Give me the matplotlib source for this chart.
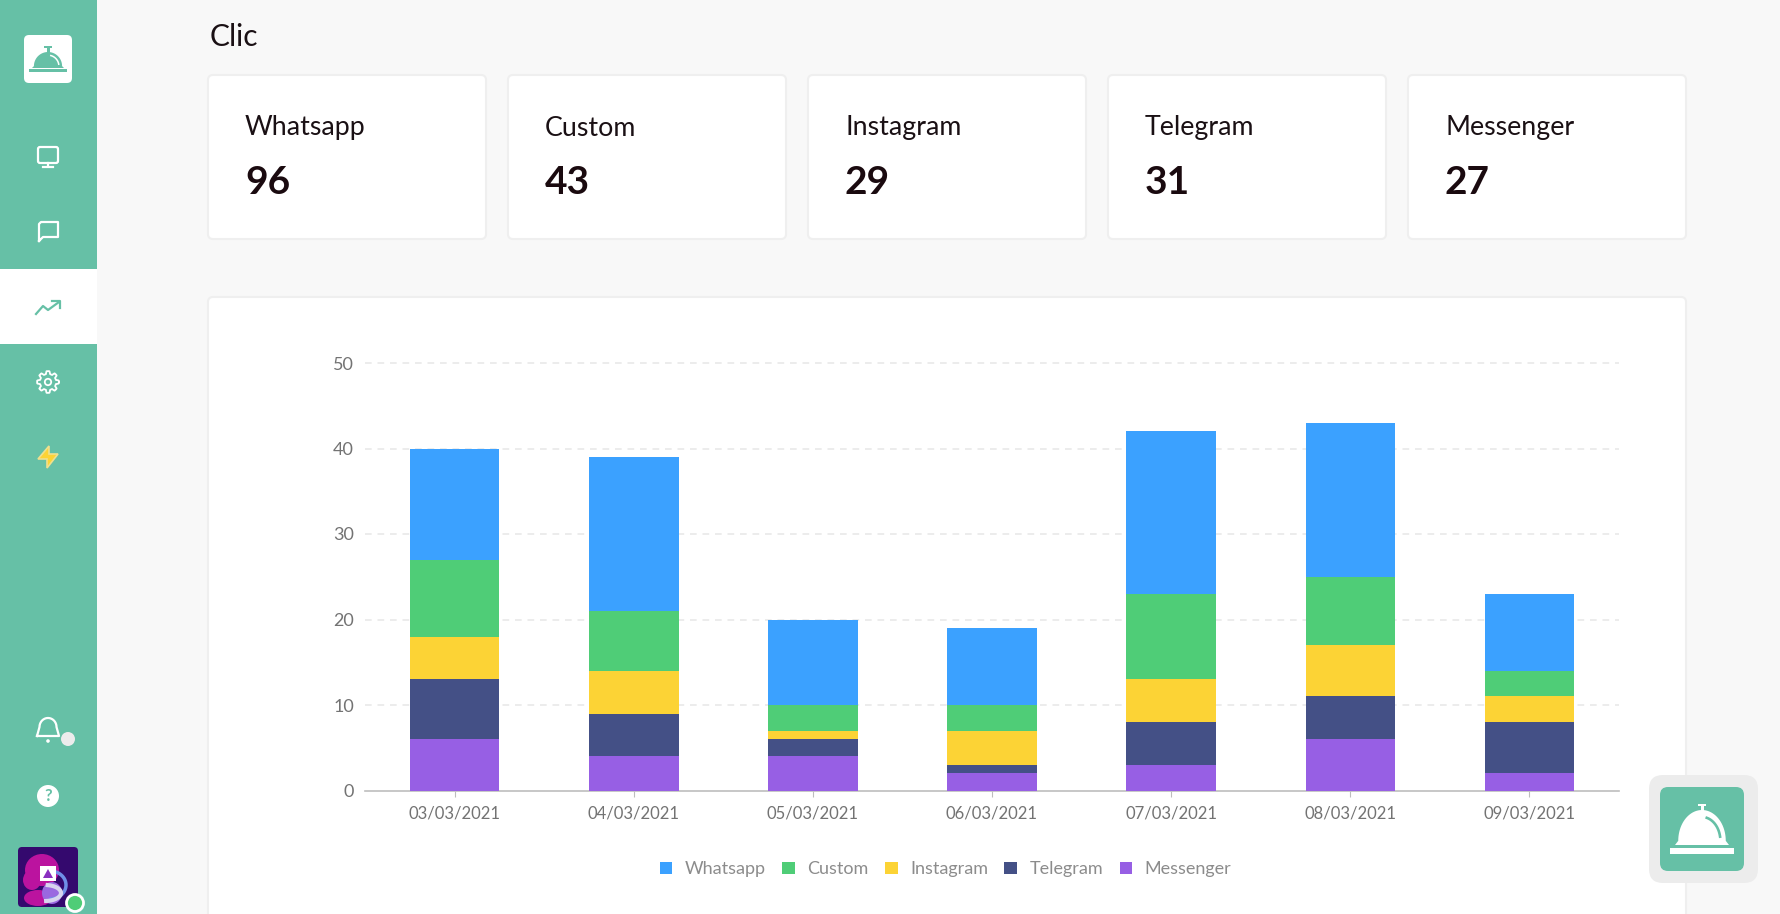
import numpy as np
import matplotlib
matplotlib.use("Agg")
import matplotlib.pyplot as plt
from matplotlib.patches import FancyBboxPatch, Rectangle, Circle, Polygon, Ellipse

# chart data
dates = ["03/03/2021", "04/03/2021", "05/03/2021", "06/03/2021", "07/03/2021", "08/03/2021", "09/03/2021"]
whatsapp = [13, 18, 10, 9, 19, 18, 9]
custom = [9, 7, 3, 3, 10, 8, 3]
instagram = [5, 5, 1, 4, 5, 6, 3]
telegram = [7, 5, 2, 1, 5, 5, 6]
messenger = [6, 4, 4, 2, 3, 6, 2]

card_names = ["Whatsapp", "Custom", "Instagram", "Telegram", "Messenger"]
card_values = [96, 43, 29, 31, 27]

GREEN = "#66c0a6"
W, H = 1780, 914

plt.rcParams["font.family"] = ["Lato", "DejaVu Sans"]

fig = plt.figure(figsize=(W / 100, H / 100), dpi=100, facecolor="#f8f8f8")

# page layer, in pixels
bg = fig.add_axes([0, 0, 1, 1])
bg.set_xlim(0, W)
bg.set_ylim(H, 0)
bg.axis("off")


def rbox(x0, y0, x1, y1, r, fc, ec="none", lw=0, z=1):
    p = FancyBboxPatch((x0 + r, y0 + r), x1 - x0 - 2 * r, y1 - y0 - 2 * r,
                       boxstyle="round,pad=%f,rounding_size=%f" % (r, r),
                       fc=fc, ec=ec, lw=lw, zorder=z)
    bg.add_patch(p)


def bell_icon(cx, base, hw, h, tray_hw, tray_h, knob, color, inner, z=5):
    # dome with a small flare at the base, knob on top, tray below
    t = np.linspace(0, np.pi, 50)
    xs = cx + hw * 0.88 * np.cos(t)
    ys = base - 0.12 * h - h * 0.88 * np.sin(t)
    xs = np.concatenate([[cx + hw], xs, [cx - hw]])
    ys = np.concatenate([[base], ys, [base]])
    bg.add_patch(Polygon(np.column_stack([xs, ys]), fc=color, zorder=z))
    bg.add_patch(Rectangle((cx - knob * 0.25, base - h - knob), knob * 0.5, knob + 1, fc=color, zorder=z))
    bg.add_patch(Rectangle((cx - knob * 0.6, base - h - knob), knob * 1.2, knob * 0.4, fc=color, zorder=z))
    gap = tray_h * 0.5
    bg.add_patch(Rectangle((cx - tray_hw, base + gap), 2 * tray_hw, tray_h, fc=color, zorder=z))
    a = np.radians(np.linspace(285, 350, 20))
    bg.plot(cx + hw * 0.68 * np.cos(a), base - 0.12 * h + h * 0.68 * np.sin(a), color=inner,
            lw=max(1, hw * 0.07), zorder=z + 1)


# sidebar
bg.add_patch(Rectangle((0, 0), 97, H, fc=GREEN, zorder=1))
bg.add_patch(Rectangle((0, 269), 97, 75, fc="white", zorder=2))
rbox(24, 35, 72, 83, 5, "white", z=3)
bell_icon(48, 68, 16, 16, 19, 2.5, 6, GREEN, "white")

# monitor
rbox(38, 147, 58, 163, 2, "none", "white", 1.6, z=4)
bg.plot([48, 48], [163, 166], color="white", lw=1.6, zorder=4)
bg.plot([43, 53], [167, 167], color="white", lw=1.6, zorder=4)
# chat
bg.plot([39, 39, 41, 58, 58, 43, 39], [241, 224, 222, 222, 237, 237, 241], color="white", lw=1.6, zorder=4)
# trend
bg.plot([36, 43, 48, 59], [314, 306, 310, 302], color=GREEN, lw=1.6, zorder=4)
bg.plot([52, 60, 60], [301, 301, 308], color=GREEN, lw=1.6, zorder=4)
# gear
a = np.linspace(0, 2 * np.pi, 200)
r = 9.5 + 1.4 * np.clip(2.2 * np.cos(8 * a), -1, 1)
bg.plot(48 + r * np.cos(a), 382 + r * np.sin(a), color="white", lw=1.3, zorder=4)
bg.add_patch(Circle((48, 382), 3.2, fc="none", ec="white", lw=1.3, zorder=4))
# bolt
bg.add_patch(Polygon([(49, 446), (38, 459), (47, 459), (47, 468), (58, 454), (49, 454)],
                     fc="#fcd335", ec="#efe08e", lw=1.2, zorder=4))
# bell
t = np.linspace(np.pi, 0, 30)
bx = np.concatenate([[37], 48 + 8.5 * np.cos(t), [59, 37]])
by = np.concatenate([[736], 727 - 9 * np.sin(t), [736, 736]])
bg.plot(bx, by, color="white", lw=1.6, zorder=4)
bg.add_patch(Circle((48, 741), 1.8, fc="white", zorder=4))
bg.add_patch(Circle((68, 739), 7, fc="#ececec", zorder=4))
# help
bg.add_patch(Circle((48, 796), 11, fc="white", zorder=4))
bg.text(48, 796, "?", color=GREEN, fontsize=12, fontweight="bold", ha="center", va="center", zorder=5)
# avatar
rbox(18, 847, 78, 907, 4, "#34096e", z=4)
bg.add_patch(Ellipse((42, 870), 34, 32, fc="#bb139f", zorder=5))
bg.add_patch(Ellipse((32, 880), 18, 20, fc="#bb139f", zorder=5))
bg.add_patch(Ellipse((38, 898), 28, 16, fc="#bb139f", zorder=5))
bg.add_patch(Ellipse((52, 893), 20, 22, fc="#9a68e0", zorder=5))
t = np.linspace(-1.4, 1.5, 30)
bg.plot(50 + 16 * np.cos(t), 885 + 14 * np.sin(t), color="#6f8fe8", lw=2.5, zorder=5)
bg.plot(45 + 16 * np.cos(t), 893 + 8 * np.sin(t), color="#d8d4ee", lw=3, zorder=5)
bg.add_patch(Rectangle((40, 866), 16, 15, fc="white", zorder=6))
bg.add_patch(Polygon([(43, 878), (48, 869), (53, 878)], fc="#8a2fc0", zorder=7))
bg.add_patch(Circle((75, 903), 8.5, fc="#4fcd77", ec="white", lw=2, zorder=8))

# header + cards
bg.text(210, 37, "Clic", fontsize=21.5, color="#1a1014", va="center", ha="left")
card_x = [(208, 486), (508, 786), (808, 1086), (1108, 1386), (1408, 1686)]
for (x0, x1), name, val in zip(card_x, card_names, card_values):
    rbox(x0, 75, x1, 239, 5, "white", "#efefef", 1.5)
    bg.text(x0 + 37, 128, name, fontsize=19.3, color="#1a1014", va="center", ha="left")
    bg.text(x0 + 37, 182, str(val), fontsize=28, fontweight="bold", color="#1a0a0f", va="center", ha="left")

# chart card runs off the bottom
rbox(208, 297, 1686, 960, 5, "white", "#efefef", 1.5)

# floating button
rbox(1649, 775, 1758, 883, 14, "#ececec", z=6)
rbox(1660, 787, 1744, 871, 8, GREEN, z=7)
bell_icon(1702, 845, 27, 35, 32, 6, 6, "white", GREEN, z=8)

# the chart
left, right, top, bottom = 365, 1619, 363, 790.5
ax = fig.add_axes([left / W, 1 - bottom / H, (right - left) / W, (bottom - top) / H])
ax.patch.set_alpha(0)

x = np.arange(len(dates))
series = [("Messenger", messenger, "#975fe4"), ("Telegram", telegram, "#445086"),
          ("Instagram", instagram, "#fcd335"), ("Custom", custom, "#4fcd77"),
          ("Whatsapp", whatsapp, "#3ba1ff")]
base = np.zeros(len(dates))
handles = {}
for name, vals, col in series:
    bars = ax.bar(x, vals, width=0.5, bottom=base, color=col, label=name, zorder=3)
    handles[name] = bars
    base += np.array(vals)

ax.set_xlim(-0.5, 6.5)
ax.set_ylim(0, 50)
ax.set_yticks(range(0, 51, 10))
ax.set_xticks(x, dates)
ax.grid(axis="y", color="#e9e9e9", lw=1.2, linestyle=(0, (4, 3.5)), zorder=0, clip_on=False)
ax.set_axisbelow(True)
for s in ["top", "left", "right"]:
    ax.spines[s].set_visible(False)
ax.spines["bottom"].set_color("#bdbdbd")
ax.spines["bottom"].set_linewidth(1.2)
ax.tick_params(axis="y", length=0, pad=8, labelsize=13, labelcolor="#737373")
ax.tick_params(axis="x", length=4, width=0.8, color="#bdbdbd", pad=6.5, labelsize=12, labelcolor="#737373")
for line, v in zip(ax.yaxis.get_gridlines(), ax.get_yticks()):
    line.set_clip_on(False)
    if v == 0:
        line.set_visible(False)

leg = ax.legend([handles[n] for n in card_names], card_names, ncol=5, frameon=False,
                loc="center", bbox_to_anchor=(0.463, -0.184), fontsize=13, labelcolor="#8c8c8c",
                handlelength=0.7, handleheight=0.7, handletextpad=0.7, columnspacing=0.9)

fig.savefig("out.png", dpi=100, facecolor=fig.get_facecolor())
